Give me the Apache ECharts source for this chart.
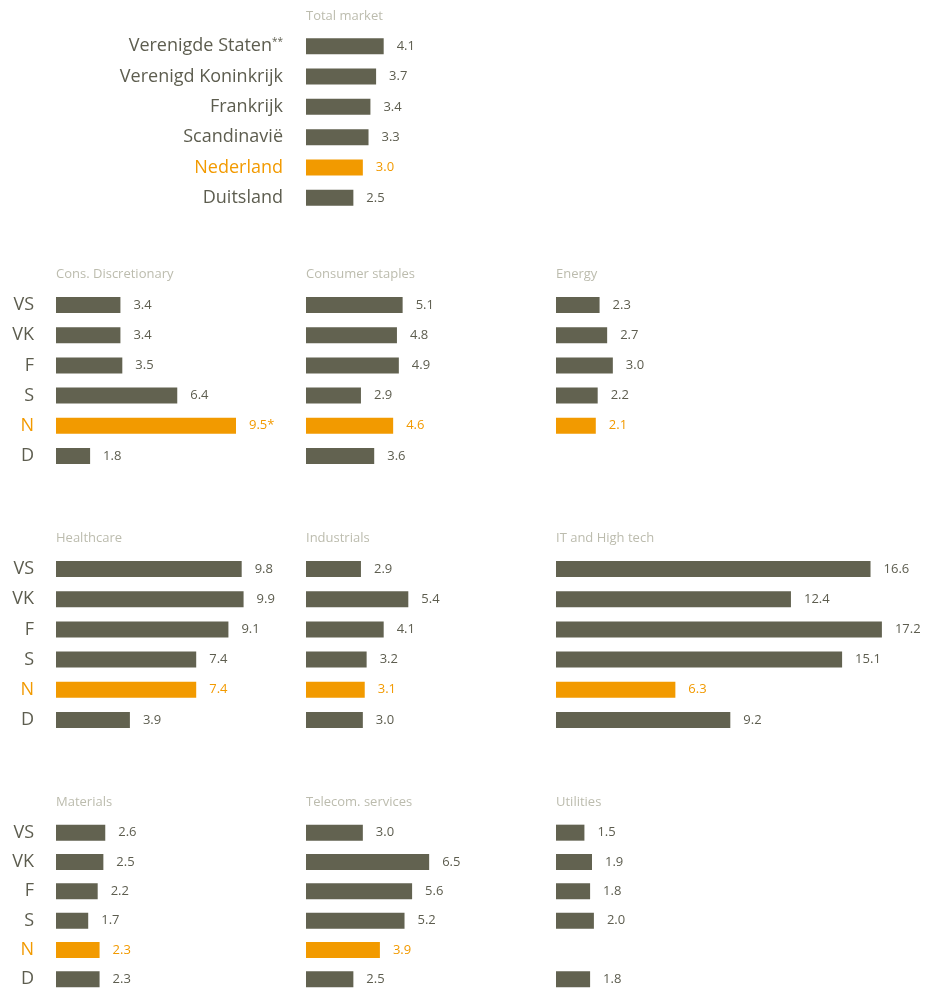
<!DOCTYPE html>
<html><head><meta charset="utf-8">
<script src="https://cdn.jsdelivr.net/npm/echarts@6/dist/echarts.min.js"></script>
<style>html,body{margin:0;padding:0;background:#fff}#c{width:925px;height:994px}</style>
</head><body><div id="c"></div>
<script>
// ---- data ----
const totalCategories = ['Verenigde Staten', 'Verenigd Koninkrijk', 'Frankrijk', 'Scandinavië', 'Nederland', 'Duitsland'];
const totalNotes = ['**', '', '', '', '', ''];
const sectorCategories = ['VS', 'VK', 'F', 'S', 'N', 'D'];
const highlightIndex = 4; // Nederland / N

const totalMarket = [4.1, 3.7, 3.4, 3.3, 3.0, 2.5];
const consDiscretionary = [3.4, 3.4, 3.5, 6.4, 9.5, 1.8];
const consumerStaples = [5.1, 4.8, 4.9, 2.9, 4.6, 3.6];
const energy = [2.3, 2.7, 3.0, 2.2, 2.1, null];
const healthcare = [9.8, 9.9, 9.1, 7.4, 7.4, 3.9];
const industrials = [2.9, 5.4, 4.1, 3.2, 3.1, 3.0];
const itHighTech = [16.6, 12.4, 17.2, 15.1, 6.3, 9.2];
const materials = [2.6, 2.5, 2.2, 1.7, 2.3, 2.3];
const telecom = [3.0, 6.5, 5.6, 5.2, 3.9, 2.5];
const utilities = [1.5, 1.9, 1.8, 2.0, null, 1.8];
const valueNotes = { 'Cons. Discretionary': ['', '', '', '', '*', ''] };

// ---- layout ----
const DARK = '#626250', ORANGE = '#f29a00', TITLE = '#bcbcae', TEXT = '#5d5d4f';
const FONT = '"Open Sans", "Noto Sans", sans-serif';
const colX = [56, 306, 556];
const rowTop = [290, 554, 818];
const panels = [
  { title: 'Total market', data: totalMarket, left: 306, top: 31, h: 182, cats: 'total', tOff: 21 },
  { title: 'Cons. Discretionary', data: consDiscretionary, col: 0, row: 0 },
  { title: 'Consumer staples', data: consumerStaples, col: 1, row: 0 },
  { title: 'Energy', data: energy, col: 2, row: 0 },
  { title: 'Healthcare', data: healthcare, col: 0, row: 1 },
  { title: 'Industrials', data: industrials, col: 1, row: 1 },
  { title: 'IT and High tech', data: itHighTech, col: 2, row: 1 },
  { title: 'Materials', data: materials, col: 0, row: 2 },
  { title: 'Telecom. services', data: telecom, col: 1, row: 2 },
  { title: 'Utilities', data: utilities, col: 2, row: 2 }
];

const option = { animation: false, title: [], grid: [], xAxis: [], yAxis: [], series: [] };
panels.forEach((p, i) => {
  const left = p.left !== undefined ? p.left : colX[p.col];
  const top = p.top !== undefined ? p.top : rowTop[p.row];
  const h = p.h || 181;
  option.title.push({ text: p.title, left: left, top: top - (p.tOff || 22), padding: 0,
    textStyle: { fontFamily: FONT, fontSize: 13, fontWeight: 'normal', color: TITLE } });
  option.grid.push({ left: left, top: top, width: 360, height: h });
  option.xAxis.push({ gridIndex: i, type: 'value', min: 0, max: 19, show: false });
  const isTotal = p.cats === 'total';
  const showLabels = isTotal || p.col === 0;
  option.yAxis.push({
    gridIndex: i, type: 'category', inverse: true,
    data: isTotal ? totalCategories : sectorCategories,
    axisLine: { show: false }, axisTick: { show: false }, splitLine: { show: false },
    axisLabel: {
      show: showLabels, margin: isTotal ? 23 : 22,
      fontFamily: FONT, fontSize: 18, color: TEXT,
      formatter: (v, idx) => {
        const base = idx === highlightIndex ? '{o|' + v + '}' : '{d|' + v + '}';
        return isTotal && totalNotes[idx] ? base + '{s|' + totalNotes[idx] + '}' : base;
      },
      rich: {
        d: { fontFamily: FONT, fontSize: 18, color: TEXT },
        o: { fontFamily: FONT, fontSize: 18, color: ORANGE },
        s: { fontFamily: FONT, fontSize: 10, color: TEXT, verticalAlign: 'top', padding: [0, 0, 8, 0] }
      }
    }
  });
  const notes = valueNotes[p.title] || [];
  option.series.push({
    type: 'bar', xAxisIndex: i, yAxisIndex: i, barWidth: 16,
    data: p.data.map((v, idx) => v === null ? null : ({
      value: v,
      itemStyle: { color: idx === highlightIndex ? ORANGE : DARK },
      label: { color: idx === highlightIndex ? ORANGE : TEXT }
    })),
    label: {
      show: true, position: 'right', distance: 13,
      fontFamily: FONT, fontSize: 13, padding: [3, 0, 0, 0],
      formatter: (prm) => prm.value.toFixed(1) + (notes[prm.dataIndex] || '')
    }
  });
});

const chart = echarts.init(document.getElementById('c'), null, { renderer: 'canvas' });
chart.setOption(option);
</script>
</body></html>
